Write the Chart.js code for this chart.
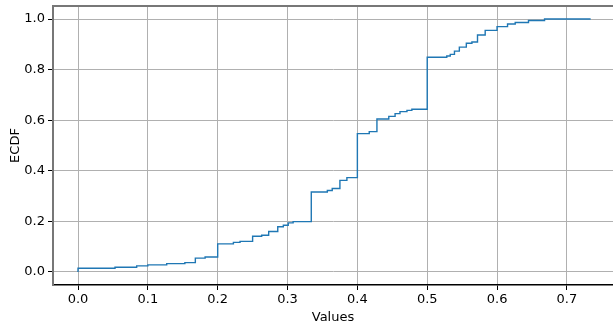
<!DOCTYPE html>
<html>
<head>
<meta charset="utf-8">
<script src="https://cdn.jsdelivr.net/npm/chart.js@4.4.0/dist/chart.umd.min.js"></script>
<style>
    html, body { margin: 0; padding: 0; background: #fff; }
    #wrap { width: 613px; height: 325px; }
</style>
</head>
<body>
<div id="wrap"><canvas id="ecdfChart" width="613" height="325"></canvas></div>
<script>
// ECDF step positions (value where each level starts) and the level
const stepValues = [0.0, 0.0, 0.053, 0.084, 0.1, 0.127, 0.153, 0.168, 0.182, 0.2, 0.2225, 0.232,
    0.25, 0.263, 0.273, 0.286, 0.294, 0.301, 0.308, 0.334, 0.357, 0.364, 0.375, 0.385,
    0.4, 0.417, 0.428, 0.445, 0.454, 0.461, 0.471, 0.478, 0.5, 0.528, 0.533, 0.539,
    0.546, 0.556, 0.564, 0.572, 0.583, 0.6, 0.615, 0.626, 0.645, 0.668, 0.734];
const ecdfLevels = [0.0, 0.015, 0.019, 0.024, 0.028, 0.033, 0.037, 0.055, 0.059, 0.111, 0.117, 0.121,
    0.141, 0.145, 0.16, 0.179, 0.185, 0.194, 0.199, 0.316, 0.322, 0.33, 0.362, 0.373,
    0.547, 0.555, 0.605, 0.615, 0.626, 0.634, 0.639, 0.643, 0.849, 0.854, 0.86, 0.873,
    0.889, 0.904, 0.909, 0.937, 0.955, 0.97, 0.98, 0.986, 0.994, 1.0, 1.0];

const xTicks = [0.0, 0.1, 0.2, 0.3, 0.4, 0.5, 0.6, 0.7];
const yTicks = [0.0, 0.2, 0.4, 0.6, 0.8, 1.0];

const points = stepValues.map((v, i) => ({ x: v, y: ecdfLevels[i] }));

// top spine (matplotlib box)
const topSpine = {
    id: 'topSpine',
    afterDraw(chart) {
        const { ctx, chartArea } = chart;
        ctx.save();
        ctx.strokeStyle = '#777';
        ctx.lineWidth = 2;
        ctx.beginPath();
        ctx.moveTo(chartArea.left, chartArea.top);
        ctx.lineTo(chartArea.right, chartArea.top);
        ctx.stroke();
        ctx.restore();
    }
};

const font = { family: 'DejaVu Sans', size: 13 };

new Chart(document.getElementById('ecdfChart').getContext('2d'), {
    type: 'line',
    data: {
        datasets: [{
            data: points,
            borderColor: '#1f77b4',
            borderWidth: 1.4,
            pointRadius: 0,
            stepped: 'before',
            fill: false
        }]
    },
    options: {
        responsive: false,
        animation: false,
        layout: { padding: { top: 6, left: 0, right: 0, bottom: 0 } },
        plugins: { legend: { display: false }, tooltip: { enabled: false } },
        scales: {
            x: {
                type: 'linear',
                min: -0.0358,
                max: 0.766,
                afterBuildTicks: s => { s.ticks = xTicks.map(v => ({ value: v })); },
                afterFit: s => { s.height = 40; s.paddingLeft = 0; s.paddingRight = 0; },
                ticks: {
                    color: '#000', font: font, padding: 2, maxRotation: 0,
                    callback: v => v.toFixed(1)
                },
                grid: { color: '#b0b0b0', lineWidth: 1, tickLength: 5, tickColor: '#000' },
                border: { color: '#000', width: 1.5 },
                title: { display: true, text: 'Values', color: '#000', font: font, padding: { top: 0, bottom: 0 } }
            },
            y: {
                min: -0.0514,
                max: 1.0514,
                afterBuildTicks: s => { s.ticks = yTicks.map(v => ({ value: v })); },
                afterFit: s => { s.width = 53; s.paddingTop = 0; s.paddingBottom = 0; },
                ticks: {
                    color: '#000', font: font, padding: 3,
                    callback: v => v.toFixed(1)
                },
                grid: { color: '#b0b0b0', lineWidth: 1, tickLength: 5, tickColor: '#000' },
                border: { color: '#777', width: 2 },
                title: { display: true, text: 'ECDF', color: '#000', font: font, padding: { top: 8, bottom: 0 } }
            }
        }
    },
    plugins: [topSpine]
});
</script>
</body>
</html>
